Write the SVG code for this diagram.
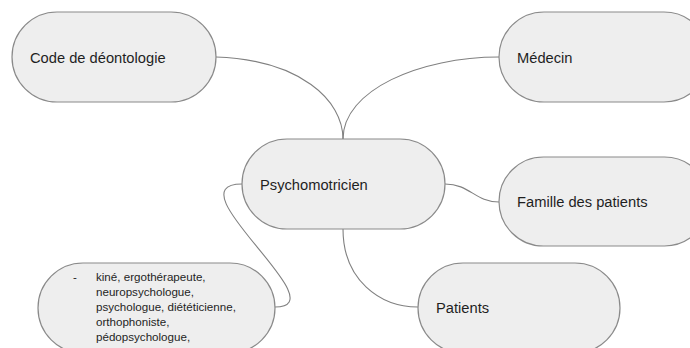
<svg xmlns="http://www.w3.org/2000/svg" width="690" height="348" viewBox="0 0 690 348">
<style>
.node{fill:#eeeeee;stroke:#8a8a8a;stroke-width:1.2}
.lbl{font-family:"Liberation Sans",Arial,sans-serif;font-size:14.7px;fill:#1f1f1f}
.small{font-family:"Liberation Sans",Arial,sans-serif;font-size:11.6px;fill:#1f1f1f}
.edge{fill:none;stroke:#808080;stroke-width:1.1}
</style>
<rect width="690" height="348" fill="#ffffff"/>
<g id="connectors">
<path class="edge" d="M216,57 C300,60 343,100 343,139"/>
<path class="edge" d="M499,57 C420,57 343,90 343,139"/>
<path class="edge" d="M445,184 C470,184 475,202 499,202"/>
<path class="edge" d="M343,229 C343,280 380,307 418,307"/>
<path class="edge" d="M242,184 C170,184 340,307 275,307"/>
</g>
<g id="code">
<rect class="node" x="12" y="12" width="204" height="90" rx="45"/>
<text class="lbl" x="30" y="63">Code de déontologie</text>
</g>
<g id="medecin">
<rect class="node" x="499" y="12" width="210" height="90" rx="45"/>
<text class="lbl" x="517" y="63">Médecin</text>
</g>
<g id="psychomotricien">
<rect class="node" x="242" y="139" width="203" height="90" rx="45"/>
<text class="lbl" x="260" y="190">Psychomotricien</text>
</g>
<g id="famille">
<rect class="node" x="499" y="157" width="210" height="89" rx="44.5"/>
<text class="lbl" x="517" y="207">Famille des patients</text>
</g>
<g id="patients">
<rect class="node" x="418" y="263" width="202" height="90" rx="45"/>
<text class="lbl" x="436" y="313">Patients</text>
</g>
<g id="autres">
<rect class="node" x="38" y="263" width="237" height="90" rx="45"/>
<text class="small" x="73" y="281">-</text>
<text class="small" x="96" y="281">kiné, ergothérapeute,</text>
<text class="small" x="96" y="296">neuropsychologue,</text>
<text class="small" x="96" y="311">psychologue, diététicienne,</text>
<text class="small" x="96" y="326">orthophoniste,</text>
<text class="small" x="96" y="341">pédopsychologue,</text>
</g>
</svg>
